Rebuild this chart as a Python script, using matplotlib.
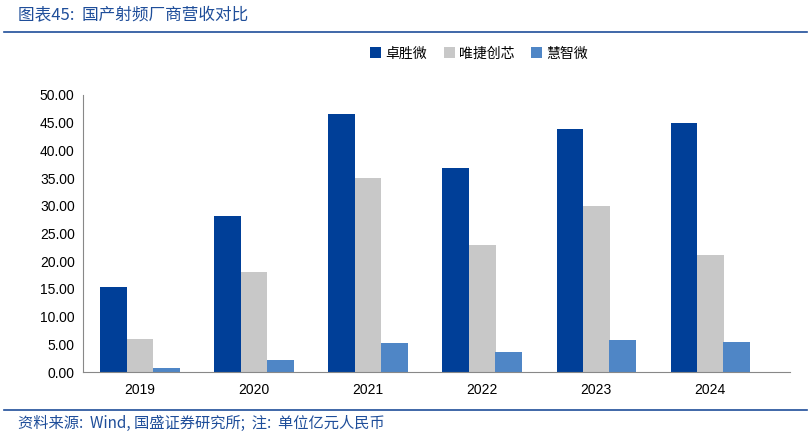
import numpy as np
import matplotlib.pyplot as plt

plt.rcParams['font.family'] = ['Noto Sans CJK SC', 'DejaVu Sans']

years = ["2019", "2020", "2021", "2022", "2023", "2024"]
zhuoshengwei = [15.3, 28.1, 46.5, 36.9, 43.9, 44.9]
weijie = [5.9, 18.1, 35.1, 23.0, 29.9, 21.2]
huizhiwei = [0.7, 2.1, 5.2, 3.7, 5.7, 5.4]
names = ["卓胜微", "唯捷创芯", "慧智微"]
colors = ["#003f98", "#c8c8c8", "#4f86c6"]

fig = plt.figure(figsize=(8.11, 4.36), dpi=100)
ax = fig.add_axes([83/811, 1-372/436, (790-83)/811, (372-95)/436])

x = np.arange(len(years))
w = 0.235
for i, (vals, name, c) in enumerate(zip([zhuoshengwei, weijie, huizhiwei], names, colors)):
    ax.bar(x + (i-1)*0.23, vals, w, color=c, label=name, zorder=2)

ax.set_xlim(-0.5, 5.7)
ax.set_ylim(0, 50)
ax.set_yticks(np.arange(0, 50.1, 5))
ax.set_yticklabels([f"{v:.2f}" for v in np.arange(0, 50.1, 5)], fontsize=10, family='Liberation Sans')
ax.set_xticks(x)
ax.set_xticklabels(years, fontsize=10, family='Liberation Sans')
ax.tick_params(axis='y', length=0, pad=6)
ax.tick_params(axis='x', length=0, pad=8)
for s in ['top', 'right']:
    ax.spines[s].set_visible(False)
ax.spines['left'].set_color('#888888')
ax.spines['bottom'].set_color('#888888')
ax.legend(loc='upper center', bbox_to_anchor=(0.56, 1.22), ncol=3, frameon=False,
          fontsize=10, handlelength=0.8, handleheight=0.8, handletextpad=0.3, columnspacing=1.2)

fig.text(0.022, 0.965, "图表45:  国产射频厂商营收对比", color="#1f4e9a", fontsize=12, style='italic', va='center')
fig.add_artist(plt.Line2D([0.005, 0.995], [1-32/436]*2, color="#1f4e9a", lw=1.2))
fig.add_artist(plt.Line2D([0.005, 0.995], [1-410/436]*2, color="#1f4e9a", lw=1.2))
fig.text(0.022, 1-423/436, "资料来源:  Wind, 国盛证券研究所;  注:  单位亿元人民币", color="#1f4e9a", fontsize=11, style='italic', va='center')

fig.savefig("out.png", dpi=100)
